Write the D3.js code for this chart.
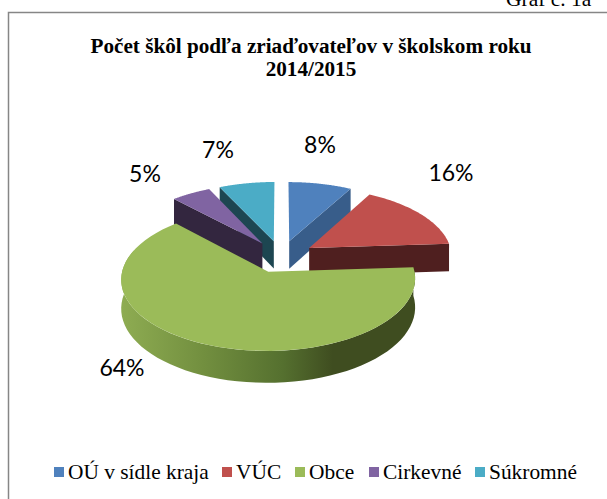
<!DOCTYPE html>
<html>
<head>
<meta charset="utf-8">
<script src="https://cdnjs.cloudflare.com/ajax/libs/d3/7.8.5/d3.min.js"></script>
<style>
html, body { margin: 0; padding: 0; background: #fff; }
svg { display: block; }
</style>
</head>
<body>
<svg id="chart" width="607" height="499"></svg>
<script>
// values
var categories = ["OÚ v sídle kraja", "VÚC", "Obce", "Cirkevné", "Súkromné"];
var shares = [8, 16, 64, 5, 7];
var titleLines = ["Počet škôl podľa zriaďovateľov v školskom roku", "2014/2015"];
var topColors = ["#4f81bd", "#c0504d", "#9bbb59", "#8064a2", "#4bacc6"];
var wallColors = ["#385d8a", "#4f1f1f", "#3f4d20", "#33263f", "#1d4651"];

// label anchors and legend layout
var labelX = [320, 451, 122, 145, 218];
var labelY = [145, 173, 368, 174, 150];
var legendSwatchX = [54, 222, 295, 369, 475];

var svg = d3.select("#chart");

// fake 3D: the pie lies on a tilted plane, seen with a little perspective
var cx = 281, cy = 256.5, rx = 143, ry = 68, depth = 28, persp = 0.1, explode = 0.236;

function project(U, V, drop) {
    var w = 1 - persp * V;
    return [cx + rx * U / w, cy + ry * V / w + (drop ? depth / w : 0)];
}

var pie = d3.pie().sort(null).value(function(d) { return d; });
var arcs = pie(shares);

arcs.forEach(function(a, i) {
    var mid = (a.startAngle + a.endAngle) / 2;
    a.index = i;
    a.offU = explode * Math.sin(mid);
    a.offV = -explode * Math.cos(mid);
});

function rim(a, t, drop) {
    return project(a.offU + Math.sin(t), a.offV - Math.cos(t), drop);
}
function apex(a, drop) {
    return project(a.offU, a.offV, drop);
}
function rimPoints(a, from, to, drop) {
    return d3.range(0, 61).map(function(k) {
        return rim(a, from + (to - from) * k / 60, drop);
    });
}
var line = d3.line().curve(d3.curveLinearClosed);

var defs = svg.append("defs");
var grad = defs.append("linearGradient").attr("id", "greenWall");
[[0, "#8eac52"], [0.28, "#728f3f"], [0.55, "#55702f"], [0.72, "#3f4d20"], [1, "#3f4d20"]].forEach(function(s) {
    grad.append("stop").attr("offset", s[0]).attr("stop-color", s[1]);
});

// chart frame, only left and top edges are inside the page
svg.append("rect")
    .attr("x", 8.5).attr("y", 12.5)
    .attr("width", 640).attr("height", 540)
    .attr("fill", "#fff").attr("stroke", "#868686").attr("stroke-width", 1.5);

svg.append("text")
    .attr("x", 506).attr("y", 6)
    .attr("font-family", "Liberation Serif").attr("font-size", 21.5)
    .text("Graf č. 1a");

svg.selectAll(".title")
    .data(titleLines)
    .enter().append("text")
    .attr("class", "title")
    .attr("x", 311)
    .attr("y", function(d, i) { return 53 + i * 23; })
    .attr("text-anchor", "middle")
    .attr("font-family", "Liberation Serif").attr("font-weight", "bold").attr("font-size", 21.2)
    .text(function(d) { return d; });

// back to front
var drawOrder = [0, 4, 3, 1, 2];
var g = svg.append("g");

drawOrder.forEach(function(i) {
    var a = arcs[i];
    // cut faces, only the ones turned towards the viewer
    if (Math.sin(a.startAngle) < -0.01) {
        g.append("path").attr("fill", wallColors[i])
            .attr("d", line([apex(a), rim(a, a.startAngle), rim(a, a.startAngle, true), apex(a, true)]));
    }
    if (Math.sin(a.endAngle) > 0.01) {
        g.append("path").attr("fill", wallColors[i])
            .attr("d", line([apex(a), rim(a, a.endAngle), rim(a, a.endAngle, true), apex(a, true)]));
    }
    // curved outer wall
    var lo = Math.max(a.startAngle, Math.PI * 0.47), hi = Math.min(a.endAngle, Math.PI * 1.6);
    if (hi - lo > 0.2) {
        var upper = rimPoints(a, lo, hi, false), lower = rimPoints(a, lo, hi, true).reverse();
        g.append("path").attr("fill", "url(#greenWall)")
            .attr("d", line(upper.concat(lower)));
    }
    // top face
    g.append("path").attr("fill", topColors[i])
        .attr("d", line([apex(a)].concat(rimPoints(a, a.startAngle, a.endAngle, false))));
});

svg.selectAll(".pct")
    .data(shares)
    .enter().append("text")
    .attr("class", "pct")
    .attr("x", function(d, i) { return labelX[i]; })
    .attr("y", function(d, i) { return labelY[i]; })
    .attr("dy", "0.35em")
    .attr("text-anchor", "middle")
    .attr("font-family", "Lato").attr("font-size", 23).attr("fill", "#000")
    .text(function(d) { return d + "%"; });

var legend = svg.selectAll(".legend")
    .data(categories)
    .enter().append("g")
    .attr("class", "legend")
    .attr("transform", function(d, i) { return "translate(" + legendSwatchX[i] + ",472)"; });

legend.append("rect")
    .attr("x", 0).attr("y", -5)
    .attr("width", 10).attr("height", 10)
    .attr("fill", function(d, i) { return topColors[i]; });

legend.append("text")
    .attr("x", 14).attr("y", 6.5)
    .attr("font-family", "Liberation Serif").attr("font-size", 21.4)
    .text(function(d) { return d; });
</script>
</body>
</html>
